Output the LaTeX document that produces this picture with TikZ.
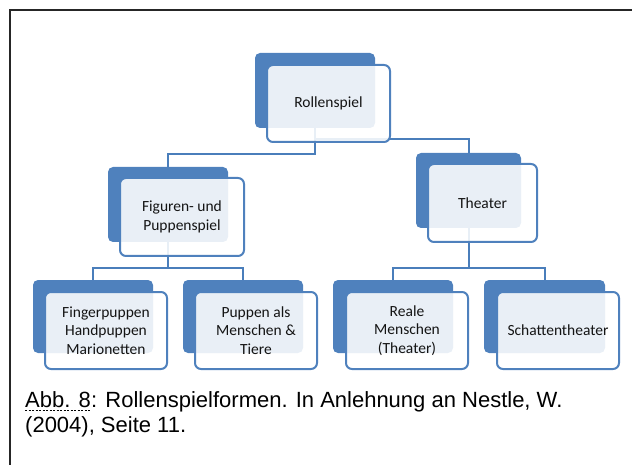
\documentclass[tikz,border=0pt]{standalone}
\usepackage{fontspec}
\setmainfont{Liberation Sans}
\newfontfamily\boxfont{Carlito}
\definecolor{accent}{HTML}{4F81BD}
\definecolor{linec}{HTML}{4A7EBB}
\begin{document}
\begin{tikzpicture}[x=1pt,y=-1pt,
 backbox/.style={fill=accent, rounded corners=5pt, inner sep=0pt, draw=none},
 frontbox/.style={draw=accent, line width=2pt, fill=white, fill opacity=0.88, text opacity=1, rounded corners=6pt, inner sep=0pt, align=center, font=\boxfont\fontsize{15.5}{18.5}\selectfont, text=black!92},
 conn/.style={draw=linec, line width=2pt},
 captxt/.style={anchor=base west, inner sep=0pt, font=\fontsize{22}{25}\selectfont, text=black}
]
\useasboundingbox (0,0) rectangle (632,465);
% frame
\draw[line width=1.8pt, black!85] (10,466) -- (10,10) -- (633,10);

% back boxes
\node[backbox, minimum width=120pt, minimum height=75pt] (rb) at (315,90.5) {};
\node[backbox, minimum width=120pt, minimum height=75pt] (fb) at (168,204.5) {};
\node[backbox, minimum width=105pt, minimum height=75pt] (tb) at (468.5,190.5) {};
\node[backbox, minimum width=120pt, minimum height=73pt] (c1b) at (93,316.5) {};
\node[backbox, minimum width=120pt, minimum height=73pt] (c2b) at (243,316.5) {};
\node[backbox, minimum width=120pt, minimum height=73pt] (c3b) at (393,316.5) {};
\node[backbox, minimum width=121pt, minimum height=73pt] (c4b) at (544.5,316.5) {};

% connector levels
\coordinate (lh) at (0,154);
\coordinate (rh) at (0,139);
\coordinate (mh) at (0,268);

\draw[conn] (rb.south) -- (rb.south |- lh) -| (fb.north);
\draw[conn] (rb.south |- rh) -| (tb.north);
\draw[conn] (fb.south) -- (fb.south |- mh) -| (c1b.north);
\draw[conn] (fb.south |- mh) -| (c2b.north);
\draw[conn] (tb.south) -- (tb.south |- mh) -| (c3b.north);
\draw[conn] (tb.south |- mh) -| (c4b.north);

% front boxes
\node[frontbox, minimum width=123pt, minimum height=77pt] (rf) at (328.5,103.5) {Rollenspiel};
\node[frontbox, minimum width=124pt, minimum height=78pt] (ff) at (182,217) {Figuren- und\\Puppenspiel};
\node[frontbox, minimum width=109pt, minimum height=78pt] (tf) at (482.5,203) {Theater};
\node[frontbox, minimum width=122pt, minimum height=77pt] (c1f) at (106,330.5) {Fingerpuppen\\Handpuppen\\Marionetten};
\node[frontbox, minimum width=122pt, minimum height=77pt] (c2f) at (256,330.5) {Puppen als\\Menschen \&\\Tiere};
\node[frontbox, minimum width=122pt, minimum height=77pt] (c3f) at (407,330.5) {Reale\\Menschen\\(Theater)};
\node[frontbox, minimum width=122pt, minimum height=77pt] (c4f) at (558,330.5) {Schattentheater};

% caption
\node[captxt] (abb) at (25,407) {Abb. 8};
\node[captxt] (cap1) at (abb.base east) {: Rollenspielformen. In Anlehnung an Nestle, W.};
\node[captxt] (cap2) at (25,432) {(2004), Seite 11.};
\draw[black, line width=1pt, dash pattern=on 2pt off 1.5pt] ([yshift=-3pt]abb.base west) -- ([yshift=-3pt]abb.base east);
\end{tikzpicture}
\end{document}
